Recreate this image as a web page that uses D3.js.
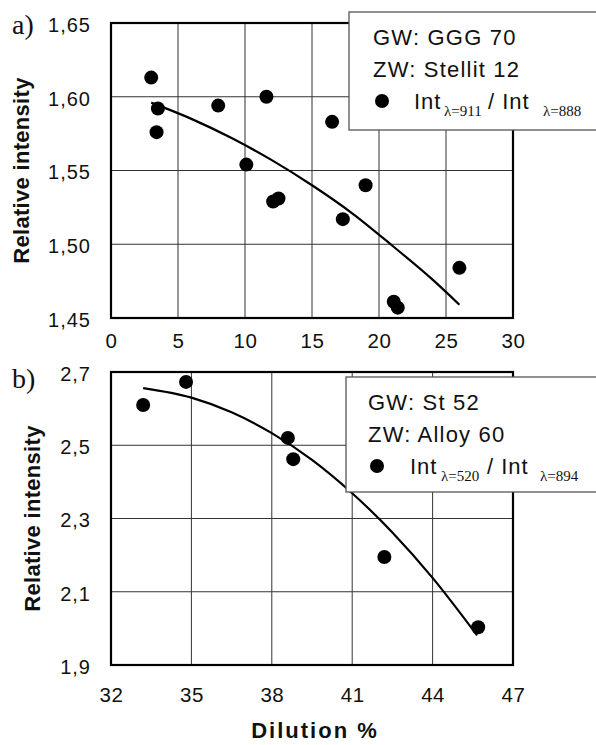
<!DOCTYPE html>
<html><head><meta charset="utf-8">
<script src="https://cdn.jsdelivr.net/npm/d3@7"></script>
<style>body{margin:0;background:#fff}</style>
</head><body><svg id="c" width="596" height="745"></svg>
<script>
// ---- Panel a data ----
const aDilution  = [3.0, 3.5, 3.4, 8.0, 11.6, 10.1, 12.1, 12.5, 16.5, 19.0, 17.3, 26.0, 21.1, 21.4];
const aIntensity = [1.613, 1.592, 1.576, 1.594, 1.600, 1.554, 1.529, 1.531, 1.583, 1.540, 1.517, 1.484, 1.461, 1.457];
const aFitX = [3, 6, 9, 12, 15, 18, 21, 24, 26];
const aFitY = [1.596, 1.585, 1.572, 1.557, 1.540, 1.521, 1.499, 1.476, 1.459];
const aXTicks = [0, 5, 10, 15, 20, 25, 30];
const aYTicks = [1.45, 1.50, 1.55, 1.60, 1.65];
const aLegend = ["GW: GGG 70", "ZW: Stellit 12"];
const aSubs = ["λ=911", "λ=888"];

// ---- Panel b data ----
const bDilution  = [33.2, 34.8, 38.6, 38.8, 42.2, 45.7];
const bIntensity = [2.610, 2.673, 2.520, 2.462, 2.195, 2.003];
const bFitX = [33.2, 35, 36.5, 38, 39.5, 41, 42.5, 44, 45.66];
const bFitY = [2.656, 2.630, 2.590, 2.533, 2.460, 2.369, 2.262, 2.138, 1.981];
const bXTicks = [32, 35, 38, 41, 44, 47];
const bYTicks = [1.9, 2.1, 2.3, 2.5, 2.7];
const bLegend = ["GW: St 52", "ZW: Alloy 60"];
const bSubs = ["λ=520", "λ=894"];

const svg = d3.select("#c");
const loc = d3.formatLocale({decimal: ",", thousands: ".", grouping: [3], currency: ["", ""]});
const sans = "'Liberation Sans', Arial, sans-serif";
const serif = "'Liberation Serif', 'Times New Roman', serif";

function panel(cfg) {
  const x = d3.scaleLinear().domain(d3.extent(cfg.xt)).range([111, 513]);
  const y = d3.scaleLinear().domain(d3.extent(cfg.yt)).range([cfg.bottom, cfg.top]);
  const g = svg.append("g");

  // grid
  g.append("g").selectAll("line").data(cfg.xt.slice(1, -1)).join("line")
    .attr("x1", d => x(d)).attr("x2", d => x(d)).attr("y1", cfg.top).attr("y2", cfg.bottom)
    .attr("stroke", "#333").attr("stroke-width", 1);
  g.append("g").selectAll("line").data(cfg.yt.slice(1, -1)).join("line")
    .attr("y1", d => y(d)).attr("y2", d => y(d)).attr("x1", 111).attr("x2", 513)
    .attr("stroke", "#333").attr("stroke-width", 1);

  // frame
  g.append("rect").attr("x", 111).attr("y", cfg.top).attr("width", 402).attr("height", cfg.bottom - cfg.top)
    .attr("fill", "none").attr("stroke", "#000").attr("stroke-width", 2.2);

  // axes
  const ya = g.append("g").attr("transform", "translate(111,0)")
    .call(d3.axisLeft(y).tickValues(cfg.yt).tickSize(0).tickPadding(20).tickFormat(loc.format(cfg.yf)));
  ya.select(".domain").remove();
  ya.selectAll("text").attr("font-family", sans).attr("font-size", 20).attr("fill", "#111")
    .attr("letter-spacing", 1).attr("dy", "0.42em");
  const xa = g.append("g").attr("transform", `translate(0,${cfg.bottom})`)
    .call(d3.axisBottom(x).tickValues(cfg.xt).tickSize(0).tickPadding(cfg.xpad).tickFormat(d3.format("d")));
  xa.select(".domain").remove();
  xa.selectAll("text").attr("font-family", sans).attr("font-size", 20.5).attr("letter-spacing", 0.5).attr("fill", "#111");

  // fit curve
  g.append("path").datum(cfg.fx.map((d, i) => [d, cfg.fy[i]]))
    .attr("d", d3.line().x(d => x(d[0])).y(d => y(d[1])).curve(d3.curveMonotoneX))
    .attr("fill", "none").attr("stroke", "#000").attr("stroke-width", 2.2);

  // points
  g.append("g").selectAll("circle").data(cfg.px.map((d, i) => [d, cfg.py[i]])).join("circle")
    .attr("cx", d => x(d[0])).attr("cy", d => y(d[1])).attr("r", 7).attr("fill", "#000");

  // y label
  g.append("text").attr("transform", `translate(${cfg.ylx},${(cfg.top + cfg.bottom) / 2}) rotate(-90)`)
    .attr("text-anchor", "middle").attr("font-family", sans).attr("font-weight", "bold")
    .attr("font-size", 22).attr("letter-spacing", 0.3).attr("fill", "#111").text("Relative intensity");

  // panel letter
  g.append("text").attr("x", 12).attr("y", cfg.letterY).attr("font-family", serif)
    .attr("font-size", 28).attr("fill", "#111").text(cfg.letter);

  // legend
  const L = cfg.leg;
  const lg = g.append("g");
  lg.append("rect").attr("x", L.x).attr("y", L.y).attr("width", 600 - L.x).attr("height", L.h)
    .attr("fill", "#fff").attr("stroke", "#555").attr("stroke-width", 1.3);
  cfg.legText.forEach((t, i) => {
    lg.append("text").attr("x", L.tx).attr("y", L.y + L.r1 + i * 32).attr("font-family", sans)
      .attr("font-size", 22).attr("letter-spacing", 1.2).attr("fill", "#111").text(t);
  });
  const ry = L.y + L.r1 + 64;
  const o = L.off;
  lg.append("circle").attr("cx", L.tx + o[0]).attr("cy", ry - 8).attr("r", 7).attr("fill", "#000");
  lg.append("text").attr("x", L.tx + o[1]).attr("y", ry).attr("font-family", sans).attr("font-size", 22)
    .attr("letter-spacing", 1).attr("fill", "#111").text("Int");
  lg.append("text").attr("x", L.tx + o[2]).attr("y", ry + 7).attr("font-family", serif).attr("font-size", 15)
    .attr("fill", "#111").text(cfg.subs[0]);
  lg.append("text").attr("x", L.tx + o[3]).attr("y", ry).attr("font-family", sans).attr("font-size", 22)
    .attr("letter-spacing", 1).attr("fill", "#111").text("/ Int");
  lg.append("text").attr("x", L.tx + o[4]).attr("y", ry + 7).attr("font-family", serif).attr("font-size", 15)
    .attr("fill", "#111").text(cfg.subs[1]);
}

panel({xt: aXTicks, yt: aYTicks, yf: ".2f", top: 23, bottom: 318, xpad: 15,
  px: aDilution, py: aIntensity, fx: aFitX, fy: aFitY, ylx: 29, letter: "a)", letterY: 34,
  legText: aLegend, subs: aSubs, leg: {x: 349, y: 12, h: 118, tx: 373, r1: 33, off: [9, 41, 71, 115, 170]}});
panel({xt: bXTicks, yt: bYTicks, yf: ".1f", top: 372, bottom: 665, xpad: 22,
  px: bDilution, py: bIntensity, fx: bFitX, fy: bFitY, ylx: 40, letter: "b)", letterY: 388,
  legText: bLegend, subs: bSubs, leg: {x: 346, y: 377, h: 115, tx: 368, r1: 33, off: [9, 42, 73, 119, 172]}});

svg.append("text").attr("x", 315).attr("y", 738).attr("text-anchor", "middle")
  .attr("font-family", sans).attr("font-weight", "bold").attr("font-size", 22)
  .attr("letter-spacing", 2).attr("fill", "#111").text("Dilution %");
</script></body></html>
